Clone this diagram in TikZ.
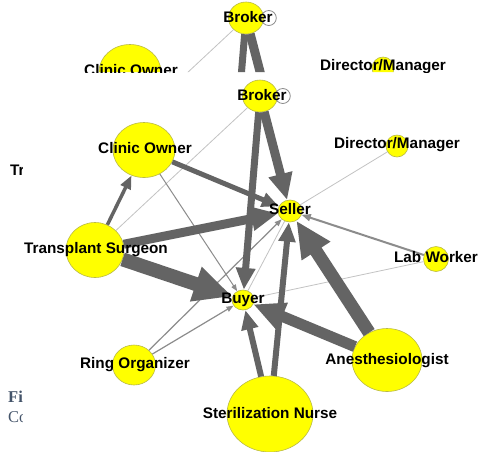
\documentclass[tikz,border=0pt]{standalone}
\usepackage{fontspec}
\newfontfamily\netfont{Liberation Sans}
\newfontfamily\capfont{Liberation Serif}
\usetikzlibrary{arrows.meta, shapes.geometric}
\definecolor{nodeyellow}{RGB}{255,255,0}
\definecolor{nodeedge}{RGB}{185,185,70}
\definecolor{tiegray}{RGB}{100,100,100}
\definecolor{thingray}{RGB}{140,140,140}
\definecolor{faintgray}{RGB}{195,195,195}
\definecolor{captionblue}{RGB}{68,84,106}
\tikzset{
    actor/.style={ellipse, fill=nodeyellow, draw=nodeedge, line width=0.6pt, inner sep=0pt},
    tag/.style={font=\netfont\bfseries\fontsize{15.3}{16}\selectfont, inner sep=0pt, text height=11pt, text depth=0pt},
    flow/.style={draw=tiegray, line width=#1, -{Triangle[length=5pt 2.4, width=3pt 2.2]}},
    weak/.style={draw=thingray, line width=#1, -{Triangle[length=4pt 2.6, width=3pt 2]}},
    faint/.style={draw=faintgray, line width=0.8pt},
    selfloop/.style={draw=thingray, line width=0.8pt},
    captext/.style={font=\capfont\fontsize{16.5}{16.5}\selectfont, text=captionblue, inner sep=0pt, anchor=west}
}
\newcommand\transplantnet{%
    % actors
    \node[actor, minimum width=35, minimum height=32] (broker) at (260,96) {};
    \node[actor, minimum width=62, minimum height=55] (clinic) at (144,150) {};
    \node[actor, minimum width=22, minimum height=22] (director) at (397,146) {};
    \node[actor, minimum width=24, minimum height=22] (seller) at (290,211) {};
    \node[actor, minimum width=25, minimum height=25] (lab) at (436,259) {};
    \node[actor, minimum width=58, minimum height=55] (surgeon) at (95,250) {};
    \node[actor, minimum width=22, minimum height=20] (buyer) at (243,300) {};
    \node[actor, minimum width=43, minimum height=40] (ring) at (134,365) {};
    \node[actor, minimum width=86, minimum height=76] (nurse) at (270,414) {};
    \node[actor, minimum width=70, minimum height=63] (anest) at (387,360) {};
    \draw[selfloop] ([xshift=5pt]broker.east) circle (7.5);
    % ties
    \draw[faint] (broker) -- (surgeon);
    \draw[faint] (director) -- (seller);
    \draw[faint] (lab) -- (buyer);
    \draw[faint] (buyer) -- (seller);
    \draw[weak=1pt] (clinic) -- (buyer);
    \draw[weak=1.2pt] (ring) -- (buyer);
    \draw[weak=1.2pt] (ring) -- (seller);
    \draw[weak=2pt] (lab) -- (seller);
    \draw[flow=3.5pt] (surgeon) -- (clinic);
    \draw[flow=5pt] (clinic) -- (seller);
    \draw[flow=9pt] (broker) -- (seller);
    \draw[flow=7pt] (broker) -- (buyer);
    \draw[flow=9pt] (surgeon) -- (seller);
    \draw[flow=14pt] (surgeon) -- (buyer);
    \draw[flow=13pt] (anest) -- (seller);
    \draw[flow=11pt] (anest) -- (buyer);
    \draw[flow=6pt] (nurse) -- (buyer);
    \draw[flow=6pt] (nurse) -- (seller);
    % labels
    \node[tag] at (262,95) {Broker};
    \node[tag] at (145,148) {Clinic Owner};
    \node[tag] at (397,143) {Director/Manager};
    \node[tag] at (290,209) {Seller};
    \node[tag] at (436,257) {Lab Worker};
    \node[tag] at (96,248) {Transplant Surgeon};
    \node[tag] at (243,298) {Buyer};
    \node[tag] at (135,363) {Ring Organizer};
    \node[tag] at (270,413) {Sterilization Nurse};
    \node[tag] at (387,359) {Anesthesiologist};
}

\begin{document}
\begin{tikzpicture}[x=1pt, y=-1pt]
    \useasboundingbox[fill=white] (0,0) rectangle (479,451);
    % copy behind, shifted up and left
    \begin{scope}
        \clip (0,0) rectangle (479,72) (0,72) rectangle (22,451);
        \begin{scope}[name prefix=ghost-, shift={(-14,-78)}]
            \transplantnet
            \node[captext] at (22,475) {\bfseries Fi};
            \node[captext] at (22,495) {Co};
        \end{scope}
    \end{scope}
    % front copy
    \begin{scope}
        \clip (22,72) rectangle (479,451);
        \transplantnet
    \end{scope}
\end{tikzpicture}
\end{document}
